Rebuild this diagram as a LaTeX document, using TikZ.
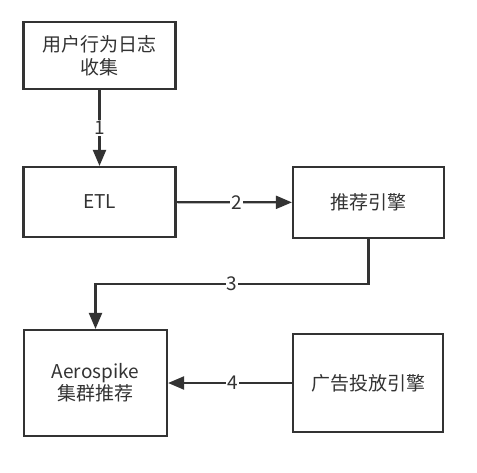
\documentclass[tikz,border=0pt]{standalone}
\usepackage{fontspec}
\setmainfont{Noto Sans CJK SC}
\usetikzlibrary{arrows.meta}
\definecolor{ln}{HTML}{333333}
\begin{document}
\begin{tikzpicture}[x=1pt,y=-1pt,
  box/.style={draw=ln,line width=2.2pt,fill=white,inner sep=0pt,align=center,font=\fontsize{19}{23}\selectfont,text=ln},
  conn/.style={draw=ln,line width=2.2pt,-{Triangle[length=16pt,width=13pt]}},
  lbl/.style={fill=white,inner sep=1pt,font=\fontsize{19}{20}\selectfont,text=ln}]
\useasboundingbox (0,0) rectangle (477,472);
\node[box,minimum width=152pt,minimum height=67pt] (a) at (99.5,55.5) {用户行为日志\\收集};
\node[box,minimum width=152pt,minimum height=70pt] (b) at (99.5,202) {ETL};
\node[box,minimum width=151pt,minimum height=71pt] (c) at (368.5,202.5) {推荐引擎};
\node[box,minimum width=143pt,minimum height=106pt,font=\fontsize{19}{22}\selectfont] (d) at (95.5,383) {Aerospike\\集群推荐};
\node[box,minimum width=150pt,minimum height=98pt] (e) at (368,383) {广告投放引擎};
\coordinate (p1) at (368.5,284);
\coordinate (p2) at (95.5,284);
\draw[conn] (a) -- node[lbl,pos=0.5]{1} (b);
\draw[conn] (b) -- node[lbl,pos=0.52]{2} (c);
\draw[conn] (c) |- (p1) -- node[lbl,pos=0.5]{3} (p2) -- (d);
\draw[conn] (e) -- node[lbl,pos=0.48]{4} (d);
\end{tikzpicture}
\end{document}
